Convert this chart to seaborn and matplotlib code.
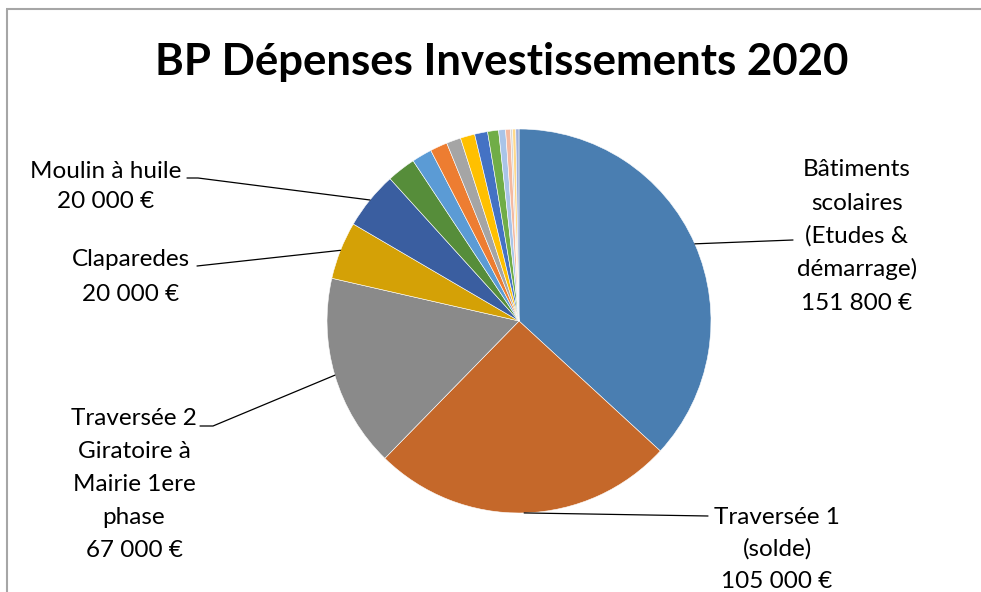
import matplotlib
matplotlib.use("Agg")
import matplotlib.pyplot as plt
import seaborn as sns
import numpy as np

sns.set_theme(style="white")
plt.rcParams['font.family'] = ['Lato', 'DejaVu Sans']

# ---- data ----
title = "BP Dépenses Investissements 2020"
categories = [
    "Bâtiments scolaires (Etudes & démarrage)",
    "Traversée 1 (solde)",
    "Traversée 2 Giratoire à Mairie 1ere phase",
    "Claparedes",
    "Moulin à huile",
    "Autre 1", "Autre 2", "Autre 3", "Autre 4", "Autre 5", "Autre 6",
    "Autre 7", "Autre 8", "Autre 9", "Autre 10", "Autre 11", "Autre 12",
]
values = [151800, 105000, 67000, 20000, 20000,
          10000, 7000, 6000, 5000, 5000, 4500, 3800, 2400, 1700, 700, 1100, 1100]
colors = ["#4A7EB1", "#C5682A", "#8A8A8A", "#D4A106", "#3A5EA0", "#568D3A",
          "#5B9BD5", "#ED7D31", "#A5A5A5", "#FFC000", "#4472C4", "#70AD47",
          "#A9C4E8", "#F4B9A0", "#D6D6D6", "#FFD98A", "#9DB0DC"]
label_lines = {
    0: ["Bâtiments", "scolaires", "(Etudes &", "démarrage)", "151 800 €"],
    1: ["Traversée 1", "(solde)", "105 000 €"],
    2: ["Traversée 2", "Giratoire à", "Mairie 1ere", "phase", "67 000 €"],
    3: ["Claparedes", "20 000 €"],
    4: ["Moulin à huile", "20 000 €"],
}

# ---- layout (pixel coordinates, y downward) ----
W, H = 981, 592
fig = plt.figure(figsize=(W / 100, H / 100), dpi=100)
ax = fig.add_axes([0, 0, 1, 1])

cx, cy, R = 519, 321, 192
wedges, _ = ax.pie(values, colors=colors, startangle=-90, counterclock=True,
                   center=(cx, cy), radius=R,
                   wedgeprops=dict(edgecolor="white", linewidth=0.4))
ax.set_xlim(0, W)
ax.set_ylim(H, 0)
ax.set_aspect("auto")
ax.axis("off")

# frame
ax.plot([6, W], [9, 9], color="#A6A6A6", lw=1.5, solid_capstyle="butt")
ax.plot([7, 7], [9, H], color="#A6A6A6", lw=1.5, solid_capstyle="butt")

ax.text(502, 75, title, ha="center", va="baseline", fontsize=31.5,
        fontweight="bold", color="black")

# label placement: (center x, first line center y, pitch, leader anchor, elbow)
label_pos = {
    0: (857, 168, 33.5, (793, 240), None),
    1: (777, 516, 32, (708, 516), None),
    2: (134, 417, 33, (200, 426), (213, 426)),
    3: (131, 258, 35, (197, 266), None),
    4: (106, 170, 30, (187, 178), (198, 178)),
}
fs = 17.5
for i, (x, y0, pitch, anchor, elbow) in label_pos.items():
    for k, line in enumerate(label_lines[i]):
        ax.text(x, y0 + k * pitch + 8, line, ha="center", va="baseline",
                fontsize=fs, color="black")
    w = wedges[i]
    mid = np.deg2rad((w.theta1 + w.theta2) / 2)
    px, py = cx + R * np.cos(mid), cy + R * np.sin(mid)
    xs, ys = [anchor[0]], [anchor[1]]
    if elbow is not None:
        xs.append(elbow[0]); ys.append(elbow[1])
    xs.append(px); ys.append(py)
    ax.plot(xs, ys, color="black", lw=0.9)

fig.savefig("out.png", dpi=100)
